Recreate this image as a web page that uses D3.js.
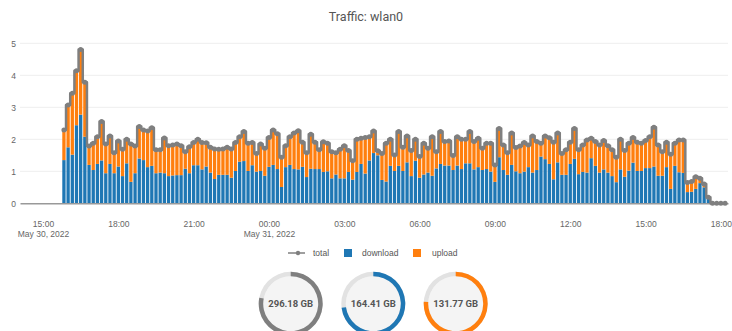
<!DOCTYPE html>
<html>
<head>
<meta charset="utf-8">
<title>Traffic: wlan0</title>
<script src="https://cdn.jsdelivr.net/npm/d3@7/dist/d3.min.js"></script>
<style>
  html, body { margin: 0; padding: 0; background: #fff; }
  svg { display: block; }
  text { font-family: "Liberation Sans", Arial, sans-serif; }
</style>
</head>
<body>
<svg id="chart" width="732" height="331"></svg>
<script>
// Samples every 10 minutes, starting 15:50 on May 30, 2022 (values in GB per interval)
const sampleStart = new Date(2022, 4, 30, 15, 50);
const sampleStepMinutes = 10;

const download = [
  1.35, 1.75, 1.52, 2.44, 2.77, 2.08, 1.20, 1.04, 1.23, 1.34,
  0.94, 1.23, 0.94, 1.15, 0.85, 1.25, 0.67, 0.94, 1.40, 1.35,
  1.13, 1.17, 0.94, 0.96, 0.94, 0.85, 0.87, 0.88, 0.88, 1.08,
  0.94, 1.19, 1.19, 1.06, 1.15, 0.96, 0.76, 0.89, 0.89, 0.89,
  0.80, 1.01, 1.30, 1.32, 1.01, 1.19, 0.99, 1.01, 0.86, 1.14,
  1.20, 1.07, 0.51, 1.13, 1.20, 1.07, 1.06, 1.14, 0.82, 1.08,
  1.07, 1.07, 0.98, 1.00, 0.78, 0.90, 0.78, 0.78, 0.98, 0.74,
  0.98, 1.23, 0.93, 1.34, 1.57, 1.50, 0.73, 0.68, 1.17, 1.01,
  1.17, 1.01, 1.28, 0.85, 1.33, 0.80, 0.90, 0.96, 0.86, 1.09,
  1.23, 1.18, 1.18, 1.04, 1.18, 1.07, 1.25, 1.25, 1.06, 1.13,
  1.04, 1.07, 0.99, 0.67, 1.44, 1.04, 0.89, 1.20, 1.00, 0.94,
  0.99, 1.13, 0.96, 1.04, 1.46, 1.38, 1.23, 0.75, 1.28, 0.89,
  0.89, 1.23, 1.39, 0.91, 0.98, 0.96, 1.41, 1.17, 0.96, 1.06,
  0.96, 0.85, 0.66, 1.06, 0.83, 1.02, 1.27, 1.01, 1.01, 1.10,
  1.10, 1.15, 0.86, 0.86, 1.13, 0.45, 1.17, 0.97, 0.95, 0.35,
  0.36, 0.45, 0.63, 0.50, 0.14, 0, 0, 0, 0
];

const upload = [
  0.94, 1.32, 1.92, 1.70, 2.04, 1.70, 0.59, 0.84, 0.85, 1.22,
  0.91, 0.87, 0.64, 0.80, 0.84, 0.75, 1.18, 0.85, 1.00, 0.94,
  1.13, 1.19, 0.73, 0.71, 1.10, 0.95, 0.95, 0.97, 0.92, 0.53,
  0.83, 0.71, 0.81, 0.84, 0.74, 0.79, 0.94, 0.80, 0.81, 0.86,
  0.90, 0.89, 0.78, 0.92, 0.87, 0.71, 0.57, 0.84, 0.86, 0.92,
  1.09, 1.10, 0.93, 0.67, 0.88, 1.13, 1.21, 0.77, 0.76, 1.08,
  0.84, 0.60, 0.94, 0.88, 0.83, 0.68, 0.91, 1.02, 0.67, 0.59,
  1.02, 0.80, 1.13, 0.74, 0.69, 0.14, 0.83, 1.20, 0.83, 0.50,
  1.07, 0.74, 0.82, 0.80, 0.67, 0.66, 0.98, 0.76, 1.22, 0.52,
  1.01, 0.75, 0.77, 0.45, 0.90, 0.93, 0.75, 0.99, 0.87, 0.90,
  0.68, 0.81, 0.89, 0.53, 0.90, 0.78, 0.69, 1.00, 0.74, 0.85,
  0.91, 0.69, 1.14, 0.89, 0.42, 0.72, 0.82, 1.16, 0.92, 0.67,
  0.78, 0.68, 0.95, 0.76, 0.84, 1.02, 0.62, 0.76, 0.86, 0.90,
  0.84, 0.82, 0.78, 0.94, 0.82, 0.86, 0.79, 0.90, 0.87, 0.86,
  0.98, 1.23, 0.96, 0.75, 0.78, 1.08, 0.71, 1.01, 1.03, 0.30,
  0.32, 0.38, 0.15, 0.10, 0.05, 0, 0, 0, 0
];

// Totals shown in the gauges below the chart
const gaugeNames = ["total", "download", "upload"];
const gaugeValuesGB = [296.18, 164.41, 131.77];
const gaugeFill = [0.78, 0.73, 0.76];

const yTicks = [0, 1, 2, 3, 4, 5];
const seriesNames = ["total", "download", "upload"];

const colors = { total: "#7f7f7f", download: "#1f77b4", upload: "#ff7f0e" };

const rows = download.map((d, i) => ({
  t: d3.timeMinute.offset(sampleStart, i * sampleStepMinutes),
  download: d,
  upload: upload[i],
  total: +(d + upload[i]).toFixed(2)
}));

const svg = d3.select("#chart");

// Scales
const x = d3.scaleTime()
  .domain([new Date(2022, 4, 30, 14, 5), new Date(2022, 4, 31, 18, 17)])
  .range([20, 728]);
const y = d3.scaleLinear().domain([0, 5.25]).range([203.3, 35.3]);

// Title
svg.append("text")
  .attr("x", 366).attr("y", 21)
  .attr("text-anchor", "middle")
  .style("font-family", "Roboto, sans-serif")
  .style("font-size", "12.5px")
  .attr("fill", "#555")
  .text("Traffic: wlan0");

// Horizontal grid lines
svg.append("g").selectAll("line")
  .data(yTicks.filter(v => v > 0))
  .join("line")
  .attr("x1", 20).attr("x2", 728)
  .attr("y1", d => y(d)).attr("y2", d => y(d))
  .attr("stroke", "#eee").attr("stroke-width", 1);

// Y axis
const yAxis = svg.append("g")
  .attr("transform", "translate(20,0)")
  .call(d3.axisLeft(y).tickValues(yTicks).tickSize(0).tickPadding(4).tickFormat(d3.format("d")));
yAxis.select(".domain").remove();
yAxis.selectAll("text").attr("fill", "#666").style("font-size", "8.5px")
  .style("font-family", "'Liberation Sans', Arial, sans-serif");

// Stacked bars
const stack = d3.stack().keys(["download", "upload"]);
const layers = stack(rows);
const barW = 3.3;
svg.append("g").selectAll("g")
  .data(layers)
  .join("g")
  .attr("fill", d => colors[d.key])
  .selectAll("rect")
  .data(d => d)
  .join("rect")
  .attr("x", d => x(d.data.t) - barW / 2)
  .attr("width", barW)
  .attr("y", d => y(d[1]))
  .attr("height", d => Math.max(0, y(d[0]) - y(d[1])));

// X axis
const xTicks = d3.timeHour.every(3).range(new Date(2022, 4, 30, 15, 0), new Date(2022, 4, 31, 18, 1));
const xAxis = svg.append("g")
  .attr("transform", `translate(0,${y(0)})`)
  .call(d3.axisBottom(x).tickValues(xTicks).tickSize(0).tickPadding(0).tickFormat(""));
xAxis.select(".domain").attr("stroke", "#999").attr("stroke-width", 1.5);
const fmtTime = d3.timeFormat("%H:%M");
const fmtDate = d3.timeFormat("%b %-d, %Y");
xAxis.selectAll(".tick").each(function (d, i) {
  const g = d3.select(this);
  g.select("text").remove();
  const t = g.append("text")
    .attr("text-anchor", "middle")
    .attr("fill", "#666")
    .style("font-size", "8.5px");
  t.append("tspan").attr("x", 0).attr("y", 24).text(fmtTime(d));
  if (i === 0 || d.getHours() === 0) {
    t.append("tspan").attr("x", 0).attr("y", 34).text(fmtDate(d));
  }
});

// Total line with points (stepped so it follows the bar tops)
const line = d3.line().curve(d3.curveStep).x(d => x(d.t)).y(d => y(d.total));
svg.append("path")
  .datum(rows)
  .attr("fill", "none")
  .attr("stroke", colors.total)
  .attr("stroke-width", 2.5)
  .attr("stroke-linejoin", "round")
  .attr("d", line);
svg.append("g").selectAll("circle")
  .data(rows)
  .join("circle")
  .attr("cx", d => x(d.t))
  .attr("cy", d => y(d.total))
  .attr("r", 2.5)
  .attr("fill", colors.total);

// Legend
const legend = svg.append("g").attr("transform", "translate(0,253)");
const legendX = { total: 288, download: 344, upload: 413 };
seriesNames.forEach(name => {
  const g = legend.append("g").attr("transform", `translate(${legendX[name]},0)`);
  if (name === "total") {
    g.append("line").attr("x1", 0).attr("x2", 17).attr("y1", 0).attr("y2", 0)
      .attr("stroke", colors.total).attr("stroke-width", 1.5);
    g.append("circle").attr("cx", 10).attr("cy", 0).attr("r", 2.2).attr("fill", colors.total);
    g.append("text").attr("x", 25).attr("y", 3).attr("fill", "#555").style("font-size", "8.5px").text(name);
  } else {
    g.append("rect").attr("x", 0).attr("y", -4).attr("width", 8).attr("height", 8).attr("fill", colors[name]);
    g.append("text").attr("x", name === "download" ? 18 : 19).attr("y", 3).attr("fill", "#555").style("font-size", "8.5px").text(name);
  }
});

// Gauges
const gaugeCx = [290.7, 373.3, 455.7];
const gaugeCy = 303.7;
const rOuter = 32, rInner = 27.5;
const arc = d3.arc().innerRadius(rInner).outerRadius(rOuter);
gaugeNames.forEach((name, i) => {
  const g = svg.append("g").attr("transform", `translate(${gaugeCx[i]},${gaugeCy})`);
  g.append("circle").attr("r", rInner).attr("fill", "#f4f4f4");
  g.append("path").attr("d", arc({ startAngle: 0, endAngle: 2 * Math.PI })).attr("fill", "#e2e2e2");
  g.append("path").attr("d", arc({ startAngle: 0, endAngle: gaugeFill[i] * 2 * Math.PI })).attr("fill", colors[name]);
  g.append("text")
    .attr("text-anchor", "middle")
    .attr("y", 3.5)
    .attr("fill", "#555")
    .style("font-family", "Roboto, sans-serif")
    .style("font-weight", "bold")
    .style("font-size", "9.5px")
    .text(d3.format(".2f")(gaugeValuesGB[i]) + " GB");
});
</script>
</body>
</html>
